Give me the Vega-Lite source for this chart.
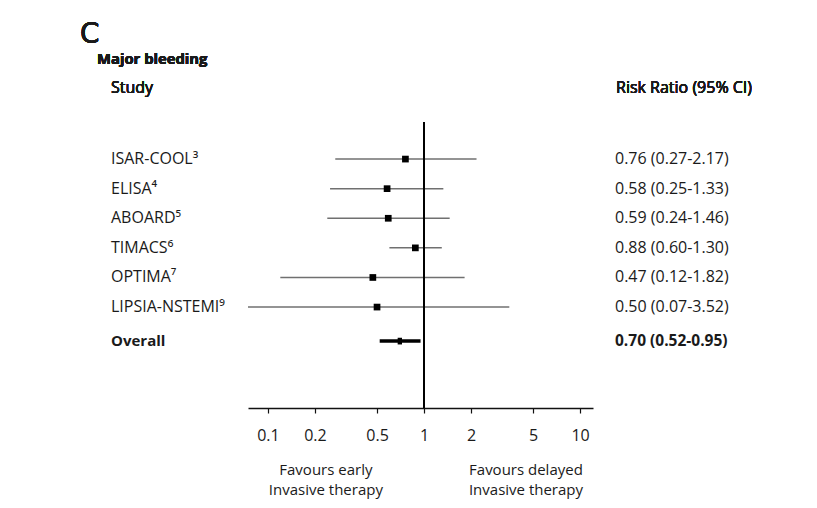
{
  "$schema": "https://vega.github.io/schema/vega-lite/v6.json",
  "background": "white",
  "padding": {"left": 80, "top": 17, "right": 10, "bottom": 5},
  "bounds": "flush",
  "spacing": 20,
  "config": {
    "view": {"stroke": null},
    "font": "Open Sans",
    "text": {"font": "Open Sans", "fontSize": 16, "color": "#1a1a1a"}
  },
  "datasets": {
    "studies": [
      {"study": "ISAR-COOL³", "rr": 0.76, "lo": 0.27, "hi": 2.17, "ci": "0.76 (0.27-2.17)", "row": 1, "overall": false},
      {"study": "ELISA⁴", "rr": 0.58, "lo": 0.25, "hi": 1.33, "ci": "0.58 (0.25-1.33)", "row": 2, "overall": false},
      {"study": "ABOARD⁵", "rr": 0.59, "lo": 0.24, "hi": 1.46, "ci": "0.59 (0.24-1.46)", "row": 3, "overall": false},
      {"study": "TIMACS⁶", "rr": 0.88, "lo": 0.60, "hi": 1.30, "ci": "0.88 (0.60-1.30)", "row": 4, "overall": false},
      {"study": "OPTIMA⁷", "rr": 0.47, "lo": 0.12, "hi": 1.82, "ci": "0.47 (0.12-1.82)", "row": 5, "overall": false},
      {"study": "LIPSIA-NSTEMI⁹", "rr": 0.50, "lo": 0.07, "hi": 3.52, "ci": "0.50 (0.07-3.52)", "row": 6, "overall": false},
      {"study": "Overall", "rr": 0.70, "lo": 0.52, "hi": 0.95, "ci": "0.70 (0.52-0.95)", "row": 7.15, "overall": true}
    ],
    "notes": [
      {"text": "Favours early\nInvasive therapy", "x": 0.235, "row": 11.5},
      {"text": "Favours delayed\nInvasive therapy", "x": 4.5, "row": 11.5}
    ]
  },
  "resolve": {"scale": {"y": "shared"}},
  "hconcat": [
    {
      "width": 117,
      "height": 391,
      "data": {"name": "studies"},
      "encoding": {
        "y": {"field": "row", "type": "quantitative", "scale": {"domain": [-3.8, 9.41], "reverse": true, "nice": false, "zero": false}, "axis": null},
        "x": {"datum": 0, "type": "quantitative", "scale": {"domain": [0, 1]}, "axis": null}
      },
      "layer": [
        {
          "transform": [{"filter": "!datum.overall"}],
          "mark": {"type": "text", "align": "left", "baseline": "middle", "fontSize": 16},
          "encoding": {"text": {"field": "study"}}
        },
        {
          "transform": [{"filter": "datum.overall"}],
          "mark": {"type": "text", "align": "left", "baseline": "middle", "fontWeight": "bold", "fontSize": 15},
          "encoding": {"text": {"field": "study"}}
        },
        {
          "mark": {"type": "text", "align": "left", "baseline": "middle", "fontSize": 16},
          "encoding": {"text": {"datum": "Study"}, "y": {"datum": -1.4, "type": "quantitative"}}
        },
        {
          "mark": {"type": "text", "align": "left", "baseline": "middle", "fontWeight": "bold", "dx": -14, "fontSize": 14.8},
          "encoding": {"text": {"datum": "Major bleeding"}, "y": {"datum": -2.34, "type": "quantitative"}}
        },
        {
          "mark": {"type": "text", "align": "left", "baseline": "middle", "fontSize": 28, "dx": -31, "font": "DejaVu Sans", "fontWeight": "normal"},
          "encoding": {"text": {"datum": "C"}, "y": {"datum": -3.2, "type": "quantitative"}}
        }
      ]
    },
    {
      "width": 345,
      "height": 391,
      "data": {"name": "studies"},
      "layer": [
        {
          "transform": [{"filter": "!datum.overall"}],
          "mark": {"type": "rule", "color": "#707070", "strokeWidth": 1.5},
          "encoding": {
            "x": {"field": "lo", "type": "quantitative", "scale": {"type": "log", "domain": [0.0745, 12.1], "nice": false, "clamp": true},
              "axis": {"values": [0.1, 0.2, 0.5, 1, 2, 5, 10], "format": "~g", "title": null, "grid": false,
                "domainColor": "#111", "domainWidth": 1.5, "tickColor": "#111", "tickWidth": 1.2, "tickSize": 5,
                "labelFont": "Open Sans", "labelFontSize": 16, "labelColor": "#1a1a1a", "labelPadding": 14}},
            "x2": {"field": "hi"},
            "y": {"field": "row", "type": "quantitative", "scale": {"domain": [-3.8, 9.41], "reverse": true, "nice": false, "zero": false}, "axis": null}
          }
        },
        {
          "transform": [{"filter": "!datum.overall"}],
          "mark": {"type": "point", "shape": "square", "filled": true, "color": "#000", "size": 45, "opacity": 1},
          "encoding": {
            "x": {"field": "rr", "type": "quantitative"},
            "y": {"field": "row", "type": "quantitative"}
          }
        },
        {
          "transform": [{"filter": "datum.overall"}],
          "mark": {"type": "rule", "color": "#000", "strokeWidth": 3.5},
          "encoding": {
            "x": {"field": "lo", "type": "quantitative"},
            "x2": {"field": "hi"},
            "y": {"field": "row", "type": "quantitative"}
          }
        },
        {
          "transform": [{"filter": "datum.overall"}],
          "mark": {"type": "point", "shape": "M-0.65,-1L0.65,-1L0.65,1L-0.65,1Z", "filled": true, "color": "#000", "size": 45, "opacity": 1},
          "encoding": {
            "x": {"field": "rr", "type": "quantitative"},
            "y": {"field": "row", "type": "quantitative"}
          }
        },
        {
          "mark": {"type": "rule", "color": "#000", "strokeWidth": 1.5},
          "encoding": {
            "x": {"datum": 1, "type": "quantitative"},
            "y": {"datum": -0.25, "type": "quantitative"},
            "y2": {"datum": 9.41}
          }
        },
        {
          "data": {"name": "notes"},
          "mark": {"type": "text", "align": "center", "baseline": "middle", "lineBreak": "\n", "lineHeight": 20, "fontSize": 15},
          "encoding": {
            "x": {"field": "x", "type": "quantitative"},
            "y": {"field": "row", "type": "quantitative"},
            "text": {"field": "text"}
          }
        }
      ]
    },
    {
      "width": 150,
      "height": 391,
      "data": {"name": "studies"},
      "encoding": {
        "y": {"field": "row", "type": "quantitative", "scale": {"domain": [-3.8, 9.41], "reverse": true, "nice": false, "zero": false}, "axis": null},
        "x": {"datum": 0, "type": "quantitative", "scale": {"domain": [0, 1]}, "axis": null}
      },
      "layer": [
        {
          "transform": [{"filter": "!datum.overall"}],
          "mark": {"type": "text", "align": "left", "baseline": "middle", "fontSize": 16, "dx": 2},
          "encoding": {"text": {"field": "ci"}}
        },
        {
          "transform": [{"filter": "datum.overall"}],
          "mark": {"type": "text", "align": "left", "baseline": "middle", "fontWeight": "bold", "fontSize": 15.5, "dx": 2},
          "encoding": {"text": {"field": "ci"}}
        },
        {
          "mark": {"type": "text", "align": "left", "baseline": "middle", "fontSize": 16, "dx": 3},
          "encoding": {"text": {"datum": "Risk Ratio (95% CI)"}, "y": {"datum": -1.4, "type": "quantitative"}}
        }
      ]
    }
  ]
}
